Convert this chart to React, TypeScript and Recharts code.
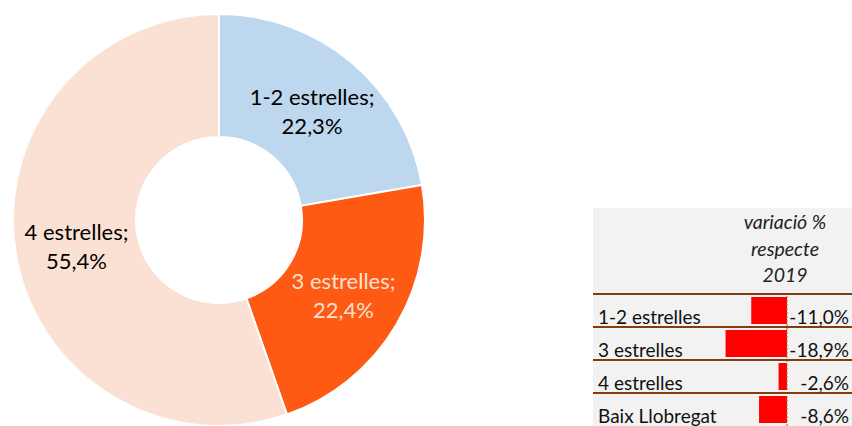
import React from 'react';
import { PieChart, Pie, Cell, BarChart, Bar, XAxis, YAxis, ReferenceLine } from 'recharts';

// share of hotel places by category
const categories = ['1-2 estrelles', '3 estrelles', '4 estrelles'];
const shares = [22.3, 22.4, 55.4];

// variation vs 2019
const rowLabels = ['1-2 estrelles', '3 estrelles', '4 estrelles', 'Baix Llobregat'];
const variation = [-11.0, -18.9, -2.6, -8.6];

const headerLines = ['variació %', 'respecte', '2019'];

const sliceColors = ['#BDD7EE', '#FE5A14', '#FBE1D3'];
const labelColors = ['#000000', '#FBE1D3', '#000000'];

const fmt = (v: number) => v.toFixed(1).replace('.', ',') + '%';

const pieData = categories.map((name, i) => ({ name, value: shares[i] }));
const barData = rowLabels.map((name, i) => ({ name, value: variation[i] }));

const FONT = 'Lato, "Liberation Sans", sans-serif';
const RAD = Math.PI / 180;

const renderPieLabel = (props: any) => {
  const { cx, cy, midAngle, innerRadius, outerRadius, index, value } = props;
  const r = (innerRadius + outerRadius) / 2;
  const x = cx + r * Math.cos(-midAngle * RAD);
  const y = cy + r * Math.sin(-midAngle * RAD);
  return (
    <text
      x={x}
      y={y}
      textAnchor="middle"
      fill={labelColors[index]}
      style={{ fontSize: 22, fontFamily: FONT }}
    >
      <tspan x={x} dy={-4}>{categories[index] + ';'}</tspan>
      <tspan x={x} dy={29}>{fmt(value)}</tspan>
    </text>
  );
};

const BAND = 33;

const RowTick = (props: any) => {
  const { y, payload } = props;
  return (
    <g>
      <line x1={0} x2={259} y1={y - BAND / 2} y2={y - BAND / 2} stroke="#843C0C" strokeWidth={2} />
      <text x={5} y={y + 13} fill="#111" style={{ fontSize: 19, fontFamily: FONT }}>
        {payload.value}
      </text>
    </g>
  );
};

const ValueTick = (props: any) => {
  const { y, index } = props;
  return (
    <text x={256} y={y + 13} textAnchor="end" fill="#111" style={{ fontSize: 19, fontFamily: FONT }}>
      {fmt(variation[index])}
    </text>
  );
};

export default function App() {
  return (
    <div style={{ position: 'absolute', left: 0, top: 0, width: 852, height: 426, background: '#fff', fontFamily: FONT, overflow: 'hidden' }}>
      <div style={{ position: 'absolute', left: 0, top: 0 }}>
        <PieChart width={440} height={426}>
          <Pie
            data={pieData}
            dataKey="value"
            cx={214}
            cy={215}
            innerRadius={83}
            outerRadius={206}
            startAngle={90}
            endAngle={-270}
            stroke="#ffffff"
            strokeWidth={2}
            label={renderPieLabel}
            labelLine={false}
            isAnimationActive={false}
          >
            {pieData.map((d, i) => (
              <Cell key={d.name} fill={sliceColors[i]} />
            ))}
          </Pie>
        </PieChart>
      </div>

      {/* variation table */}
      <div style={{ position: 'absolute', left: 593, top: 208, width: 259, height: 218, background: '#F2F2F2' }} />
      <div style={{ position: 'absolute', left: 725, top: 209, width: 120, textAlign: 'center', fontStyle: 'italic', fontSize: 19.5, lineHeight: '26.5px', color: '#222' }}>
        {headerLines.map((l) => (
          <div key={l}>{l}</div>
        ))}
      </div>
      <div style={{ position: 'absolute', left: 593, top: 208 }}>
        <BarChart
          width={259}
          height={218}
          data={barData}
          layout="vertical"
          margin={{ top: 86, right: 0, bottom: 0, left: 0 }}
          barSize={27}
        >
          <XAxis type="number" domain={[-20, 0]} hide />
          <YAxis
            yAxisId="left"
            type="category"
            dataKey="name"
            width={129}
            axisLine={false}
            tickLine={false}
            tick={<RowTick />}
            interval={0}
          />
          <YAxis
            yAxisId="right"
            orientation="right"
            type="category"
            dataKey="name"
            width={65}
            axisLine={false}
            tickLine={false}
            tick={<ValueTick />}
            interval={0}
          />
          <Bar yAxisId="left" dataKey="value" fill="#FF0000" isAnimationActive={false} />
          <ReferenceLine yAxisId="left" x={0} stroke="#C55A11" strokeDasharray="2 2" />
        </BarChart>
      </div>
    </div>
  );
}
